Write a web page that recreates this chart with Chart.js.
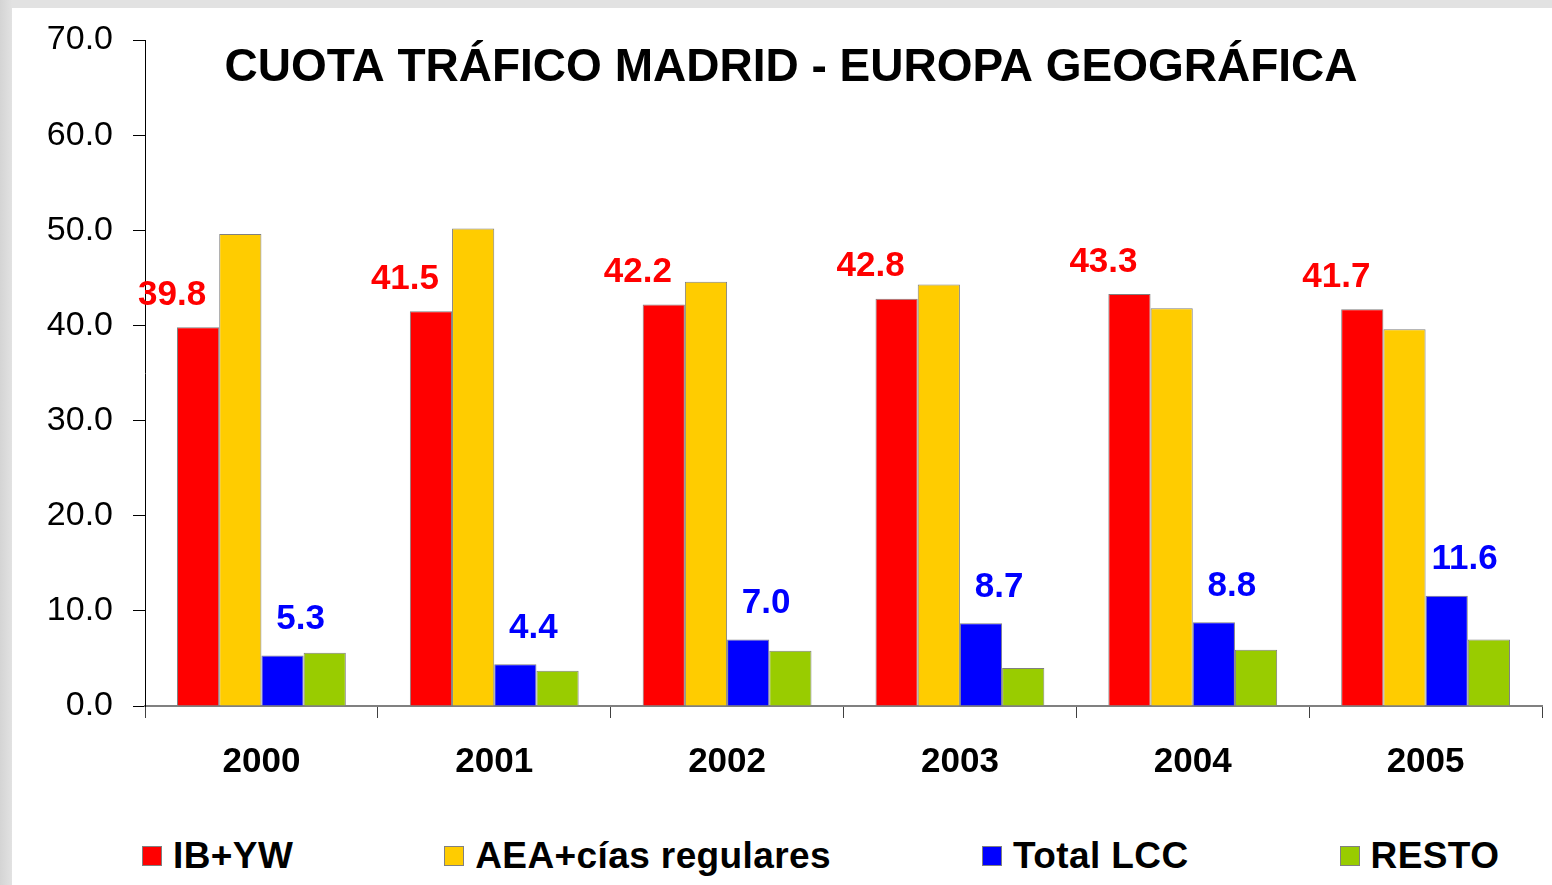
<!DOCTYPE html>
<html>
<head>
<meta charset="utf-8">
<title>Cuota tráfico Madrid - Europa geográfica</title>
<script src="https://cdn.jsdelivr.net/npm/chart.js@4.4.1/dist/chart.umd.min.js"></script>
<style>
    body {
        margin: 0;
        width: 1552px;
        height: 885px;
        overflow: hidden;
        background: linear-gradient(90deg, #d4d4d4 0px, #e2e2e2 12px, #e2e2e2 100%);
        font-family: "Liberation Sans", Arial, sans-serif;
    }
    #panel {
        position: absolute;
        left: 12px;
        top: 8px;
        width: 1540px;
        height: 877px;
        background: #fff;
    }
    #chartBox {
        position: absolute;
        left: 0;
        top: 0;
        width: 1540px;
        height: 800px;
    }
    #legend {
        position: absolute;
        left: 130px;
        top: 828px;
        height: 40px;
        display: flex;
        align-items: center;
        gap: 151px;
    }
    .legend-item {
        display: flex;
        align-items: center;
        font-weight: bold;
        font-size: 37px;
        letter-spacing: 0.4px;
        color: #000;
    }
    .legend-box {
        width: 18px;
        height: 18px;
        border: 1px solid #808080;
        margin-right: 11px;
    }
</style>
</head>
<body>
<div id="panel">
    <div id="chartBox"><canvas id="trafficChart"></canvas></div>
    <div id="legend"></div>
</div>
<script>
const years = ["2000", "2001", "2002", "2003", "2004", "2005"];
const ibYw = [39.8, 41.5, 42.2, 42.8, 43.3, 41.7];
const aeaRegulares = [49.6, 50.2, 44.6, 44.3, 41.8, 39.6];
const totalLcc = [5.3, 4.4, 7.0, 8.7, 8.8, 11.6];
const resto = [5.6, 3.7, 5.8, 4.0, 5.9, 7.0];

const FONT = "'Liberation Sans', Arial, sans-serif";

/** Title drawn over the plot area, like in the original slide */
const titlePlugin = {
    id: "slideTitle",
    afterDraw(chart) {
        const ctx = chart.ctx;
        ctx.save();
        ctx.font = `bold 46px ${FONT}`;
        ctx.fillStyle = "#000";
        ctx.textAlign = "center";
        ctx.textBaseline = "middle";
        ctx.fillText("CUOTA TRÁFICO MADRID - EUROPA GEOGRÁFICA", 779, 60);
        ctx.restore();
    },
};

/** Value labels for IB+YW (red) and Total LCC (blue) */
const valueLabels = {
    id: "valueLabels",
    afterDatasetsDraw(chart) {
        const ctx = chart.ctx;
        const styles = [
            { index: 0, color: "#FF0000", dx: -26, dy: -32 },
            { index: 2, color: "#0000FF", dx: 18, dy: -36 },
        ];
        ctx.save();
        ctx.font = `bold 35px ${FONT}`;
        ctx.textAlign = "center";
        ctx.textBaseline = "middle";
        styles.forEach((s) => {
            const meta = chart.getDatasetMeta(s.index);
            const values = chart.data.datasets[s.index].data;
            meta.data.forEach((bar, i) => {
                ctx.fillStyle = s.color;
                ctx.fillText(values[i].toFixed(1), bar.x + s.dx, bar.y + s.dy);
            });
        });
        ctx.restore();
    },
};

/** HTML legend built from the chart's own legend items */
const htmlLegend = {
    id: "htmlLegend",
    afterUpdate(chart) {
        const box = document.getElementById("legend");
        box.innerHTML = "";
        const items = chart.options.plugins.legend.labels.generateLabels(chart);
        items.forEach((item) => {
            const el = document.createElement("div");
            el.className = "legend-item";
            const swatch = document.createElement("span");
            swatch.className = "legend-box";
            swatch.style.background = item.fillStyle;
            const text = document.createElement("span");
            text.textContent = item.text;
            el.appendChild(swatch);
            el.appendChild(text);
            box.appendChild(el);
        });
    },
};

const ctx = document.getElementById("trafficChart").getContext("2d");

new Chart(ctx, {
    type: "bar",
    data: {
        labels: years,
        datasets: [
            { label: "IB+YW", data: ibYw, backgroundColor: "#FF0000" },
            { label: "AEA+cías regulares", data: aeaRegulares, backgroundColor: "#FFCC00" },
            { label: "Total LCC", data: totalLcc, backgroundColor: "#0000FF" },
            { label: "RESTO", data: resto, backgroundColor: "#99CC00" },
        ].map((ds) => ({
            ...ds,
            borderColor: "#808080",
            borderWidth: 1,
            categoryPercentage: 0.725,
            barPercentage: 1.0,
        })),
    },
    options: {
        responsive: true,
        maintainAspectRatio: false,
        animation: false,
        layout: {
            padding: { top: 32, right: 10, bottom: 0, left: 0 },
        },
        plugins: {
            legend: { display: false },
            title: { display: false },
            tooltip: { enabled: false },
        },
        scales: {
            x: {
                offset: true,
                grid: {
                    offset: true,
                    drawOnChartArea: false,
                    drawTicks: true,
                    tickLength: 12,
                    color: "#404040",
                },
                border: { color: "#808080", width: 2 },
                ticks: {
                    color: "#000",
                    padding: 23,
                    font: { family: FONT, size: 35, weight: "bold", lineHeight: 1.2 },
                },
                afterFit(scale) {
                    scale.height = 102;
                },
            },
            y: {
                min: 0,
                max: 70,
                grid: {
                    drawOnChartArea: false,
                    drawTicks: true,
                    tickLength: 12,
                    color: "#000",
                },
                border: { color: "#000", width: 1 },
                ticks: {
                    stepSize: 10,
                    color: "#000",
                    padding: 20,
                    font: { family: FONT, size: 34 },
                    callback: (v) => v.toFixed(1),
                },
                afterFit(scale) {
                    scale.width = 133;
                    scale.paddingTop = 0;
                    scale.paddingBottom = 0;
                },
            },
        },
    },
    plugins: [titlePlugin, valueLabels, htmlLegend],
});
</script>
</body>
</html>
